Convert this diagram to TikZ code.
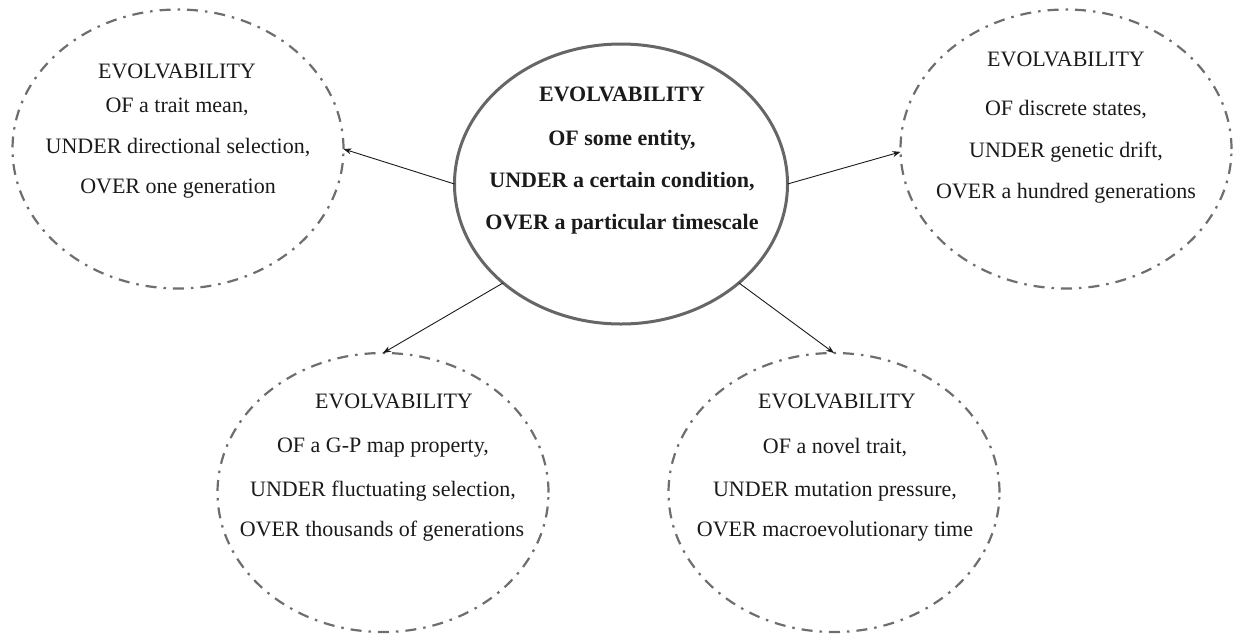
\documentclass[tikz,border=0pt]{standalone}
\usepackage{fontspec}
\setmainfont{Liberation Serif}
\usetikzlibrary{shapes.geometric,arrows.meta}
\definecolor{subgray}{HTML}{6E6E6E}
\definecolor{ringgray}{HTML}{666666}
\definecolor{textc}{HTML}{1A1A1A}
\definecolor{arrowc}{HTML}{1A1A1A}
\begin{document}
\begin{tikzpicture}[x=1pt,y=-1pt,
  sub/.style={ellipse, draw=subgray, line width=2.2pt, dash pattern=on 11pt off 7pt on 2.5pt off 7pt, minimum width=331pt, minimum height=279pt, inner sep=0pt, outer sep=0pt},
  mainell/.style={ellipse, draw=ringgray, line width=3pt, minimum width=333pt, minimum height=280pt, inner sep=0pt, outer sep=0pt},
  txt/.style={anchor=base, font=\fontsize{22}{26}\selectfont, text=textc, inner sep=0pt},
  btxt/.style={anchor=base, font=\fontsize{22}{26}\selectfont\bfseries, text=textc, inner sep=0pt},
  conn/.style={-{Stealth[length=8pt,width=6pt]}, line width=0.9pt, draw=arrowc}]
\useasboundingbox (0,0) rectangle (1236,633);
% ellipses
\node[mainell] (c) at (621,184) {};
\node[sub] (tl) at (178,149) {};
\node[sub] (tr) at (1066,149) {};
\node[sub] (bl) at (383,492.5) {};
\node[sub] (br) at (834,492.5) {};
% central text
\node[btxt] (c1) at (622,101) {EVOLVABILITY};
\node[btxt] (c2) at (622,145) {OF some entity,};
\node[btxt] (c3) at (622,187) {UNDER a certain condition,};
\node[btxt] (c4) at (622,229) {OVER a particular timescale};
% top-left text
\node[txt] (tl1) at (177,78) {EVOLVABILITY};
\node[txt] (tl2) at (177,112) {OF a trait mean,};
\node[txt] (tl3) at (178,153) {UNDER directional selection,};
\node[txt] (tl4) at (178,193) {OVER one generation};
% top-right text
\node[txt] (tr1) at (1066,66) {EVOLVABILITY};
\node[txt] (tr2) at (1066,115) {OF discrete states,};
\node[txt] (tr3) at (1066,157) {UNDER genetic drift,};
\node[txt] (tr4) at (1066,198) {OVER a hundred generations};
% bottom-left text
\node[txt] (bl1) at (394,408) {EVOLVABILITY};
\node[txt] (bl2) at (383,452) {OF a G-P map property,};
\node[txt] (bl3) at (383,496) {UNDER fluctuating selection,};
\node[txt] (bl4) at (382,536) {OVER thousands of generations};
% bottom-right text
\node[txt] (br1) at (837,408) {EVOLVABILITY};
\node[txt] (br2) at (835,453) {OF a novel trait,};
\node[txt] (br3) at (835,496) {UNDER mutation pressure,};
\node[txt] (br4) at (835,536) {OVER macroevolutionary time};
% connectors
\draw[conn] (c.west) -- (tl.east);
\draw[conn] (c.east) -- (tr.181);
\draw[conn] (c.220) -- (bl.north);
\draw[conn] (c.320) -- (br.north);
\end{tikzpicture}
\end{document}
